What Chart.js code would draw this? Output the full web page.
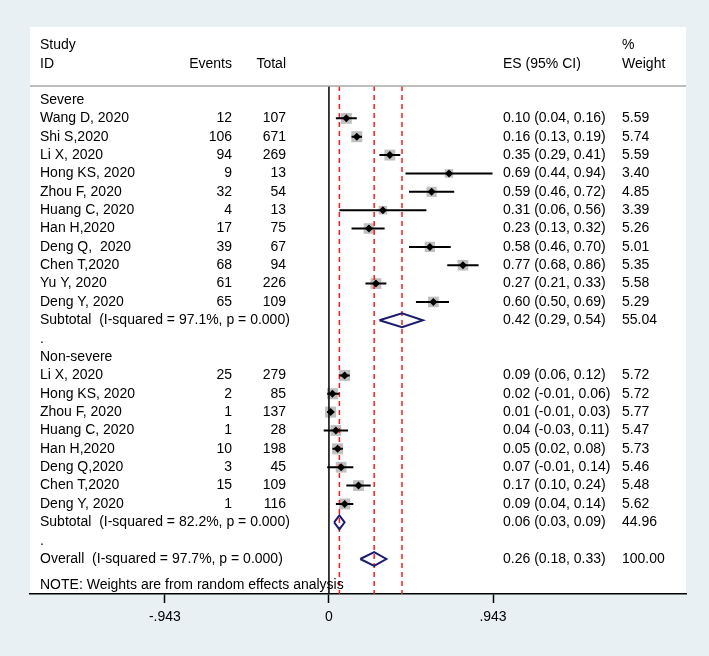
<!DOCTYPE html>
<html>
<head>
<meta charset="utf-8">
<script src="https://cdn.jsdelivr.net/npm/chart.js@4.4.0/dist/chart.umd.min.js"></script>
<style>
  html, body { margin: 0; padding: 0; background: #e9f0f3; }
  canvas { display: block; }
</style>
</head>
<body>
<canvas id="forest" width="709" height="656"></canvas>
<script>
// rows of the forest plot, top to bottom
var rowLabels = ['Severe', 'Wang D, 2020', 'Shi S,2020', 'Li X, 2020', 'Hong KS, 2020', 'Zhou F, 2020',
    'Huang C, 2020', 'Han H,2020', 'Deng Q,  2020', 'Chen T,2020', 'Yu Y, 2020', 'Deng Y, 2020',
    'Subtotal  (I-squared = 97.1%, p = 0.000)', '.', 'Non-severe', 'Li X, 2020', 'Hong KS, 2020',
    'Zhou F, 2020', 'Huang C, 2020', 'Han H,2020', 'Deng Q,2020', 'Chen T,2020', 'Deng Y, 2020',
    'Subtotal  (I-squared = 82.2%, p = 0.000)', '.', 'Overall  (I-squared = 97.7%, p = 0.000)'];
// 'g' = group header, 's' = study, 'p' = pooled (diamond), 'b' = blank
var rowTypes = ['g','s','s','s','s','s','s','s','s','s','s','s','p','b',
                'g','s','s','s','s','s','s','s','s','p','b','p'];
var events = [null,12,106,94,9,32,4,17,39,68,61,65,null,null,null,25,2,1,1,10,3,15,1,null,null,null];
var totals = [null,107,671,269,13,54,13,75,67,94,226,109,null,null,null,279,85,137,28,198,45,109,116,null,null,null];
var es     = [null,0.10,0.16,0.35,0.69,0.59,0.31,0.23,0.58,0.77,0.27,0.60,0.42,null,
              null,0.09,0.02,0.01,0.04,0.05,0.07,0.17,0.09,0.06,null,0.26];
var ciLow  = [null,0.04,0.13,0.29,0.44,0.46,0.06,0.13,0.46,0.68,0.21,0.50,0.29,null,
              null,0.06,-0.01,-0.01,-0.03,0.02,-0.01,0.10,0.04,0.03,null,0.18];
var ciHigh = [null,0.16,0.19,0.41,0.94,0.72,0.56,0.32,0.70,0.86,0.33,0.69,0.54,null,
              null,0.12,0.06,0.03,0.11,0.08,0.14,0.24,0.14,0.09,null,0.33];
var weights = [null,5.59,5.74,5.59,3.40,4.85,3.39,5.26,5.01,5.35,5.58,5.29,55.04,null,
               null,5.72,5.72,5.77,5.47,5.73,5.46,5.48,5.62,44.96,null,100.00];
var xTicks = [-0.943, 0, 0.943];
var xTickLabels = ['-.943', '0', '.943'];
var noteText = 'NOTE: Weights are from random effects analysis';

var FONT = '14px "Liberation Sans", Arial, sans-serif';
var yMin = -0.762, yMax = 26.906;

// build datasets
var boxes = [], marks = [], ciPts = [], diaPts = [], refLines = [];
for (var i = 0; i < rowLabels.length; i++) {
    if (rowTypes[i] == 's') {
        boxes.push({x: es[i], y: i, w: weights[i]});
        marks.push({x: es[i], y: i});
        ciPts.push({x: ciLow[i], y: i}, {x: ciHigh[i], y: i}, {x: ciHigh[i], y: null});
    }
    if (rowTypes[i] == 'p') {
        var h = 0.38;
        diaPts.push({x: ciLow[i], y: i}, {x: es[i], y: i - h}, {x: ciHigh[i], y: i},
                    {x: es[i], y: i + h}, {x: ciLow[i], y: i}, {x: ciLow[i], y: null});
        refLines.push({x: es[i], y: yMin}, {x: es[i], y: yMax}, {x: es[i], y: null});
    }
}

var forestText = {
    id: 'forestText',
    beforeDraw: function(chart) {
        var c = chart.ctx;
        c.save();
        c.fillStyle = '#e9f0f3';
        c.fillRect(0, 0, chart.width, chart.height);
        c.fillStyle = '#ffffff';
        c.fillRect(30, 27, 656, 567);
        c.restore();
    },
    afterDraw: function(chart) {
        var c = chart.ctx;
        var ys = chart.scales.y;
        var top = chart.chartArea.top;
        c.save();
        // separator under the header
        c.strokeStyle = '#a8a8a8';
        c.lineWidth = 1.5;
        c.beginPath();
        c.moveTo(30, top);
        c.lineTo(686, top);
        c.stroke();

        c.fillStyle = '#000';
        c.font = FONT;
        c.textBaseline = 'middle';
        // header
        c.textAlign = 'left';
        c.fillText('Study', 40, 45);
        c.fillText('ID', 40, 64);
        c.fillText('ES (95% CI)', 503, 64);
        c.fillText('%', 622, 45);
        c.fillText('Weight', 622, 64);
        c.textAlign = 'right';
        c.fillText('Events', 232, 64);
        c.fillText('Total', 286, 64);

        for (var i = 0; i < rowLabels.length; i++) {
            var y = ys.getPixelForValue(i);
            c.textAlign = 'left';
            c.fillText(rowLabels[i], 40, y);
            if (es[i] !== null) {
                c.fillText(es[i].toFixed(2) + ' (' + ciLow[i].toFixed(2) + ', ' + ciHigh[i].toFixed(2) + ')', 503, y);
                c.fillText(weights[i].toFixed(2), 622, y);
            }
            c.textAlign = 'right';
            if (events[i] !== null) c.fillText(events[i], 232, y);
            if (totals[i] !== null) c.fillText(totals[i], 286, y);
        }
        c.textAlign = 'left';
        c.fillText(noteText, 40, ys.getPixelForValue(26.42));
        c.restore();
    }
};

var ctx = document.getElementById('forest').getContext('2d');
var chart = new Chart(ctx, {
    type: 'scatter',
    data: {
        datasets: [
            {   // grey weight boxes
                data: boxes,
                pointStyle: 'rect',
                pointRadius: boxes.map(function(b) { return 4.6 * Math.sqrt(b.w) / 1.414; }),
                backgroundColor: '#bfbfbf',
                borderWidth: 0,
                order: 6
            },
            {   // red dashed pooled estimates
                type: 'line',
                data: refLines,
                borderColor: '#ff1a1a',
                borderWidth: 1.5,
                borderDash: [5, 4],
                pointRadius: 0,
                spanGaps: false,
                order: 5
            },
            {   // null line at 0
                type: 'line',
                data: [{x: 0, y: yMin}, {x: 0, y: yMax}],
                borderColor: '#000',
                borderWidth: 1.5,
                pointRadius: 0,
                order: 4
            },
            {   // confidence intervals
                type: 'line',
                data: ciPts,
                borderColor: '#000',
                borderWidth: 2,
                pointRadius: 0,
                spanGaps: false,
                order: 3
            },
            {   // pooled diamonds
                type: 'line',
                data: diaPts,
                borderColor: '#1c1c6e',
                borderWidth: 2,
                pointRadius: 0,
                spanGaps: false,
                fill: false,
                order: 2
            },
            {   // point estimates
                data: marks,
                pointStyle: 'rectRot',
                pointRadius: 4,
                backgroundColor: '#000',
                borderWidth: 0,
                order: 1
            }
        ]
    },
    options: {
        responsive: false,
        animation: false,
        devicePixelRatio: 1,
        layout: { padding: { left: 30, right: 23, top: 86, bottom: 0 } },
        plugins: { legend: { display: false }, tooltip: { enabled: false } },
        scales: {
            x: {
                type: 'linear',
                position: 'bottom',
                min: -1.718,
                max: 2.052,
                afterBuildTicks: function(scale) {
                    scale.ticks = xTicks.map(function(v) { return {value: v}; });
                },
                afterFit: function(scale) { scale.height = 62; },
                grid: { drawOnChartArea: false, drawTicks: true, tickLength: 9, color: '#000', tickWidth: 1.5 },
                border: { display: true, color: '#000', width: 1.5 },
                ticks: {
                    color: '#000',
                    font: { family: '"Liberation Sans", Arial, sans-serif', size: 14 },
                    padding: 6,
                    autoSkip: false,
                    maxRotation: 0,
                    callback: function(value) {
                        return xTickLabels[xTicks.indexOf(value)];
                    }
                }
            },
            y: {
                type: 'linear',
                reverse: true,
                min: yMin,
                max: yMax,
                display: false
            }
        }
    },
    plugins: [forestText]
});
</script>
</body>
</html>
